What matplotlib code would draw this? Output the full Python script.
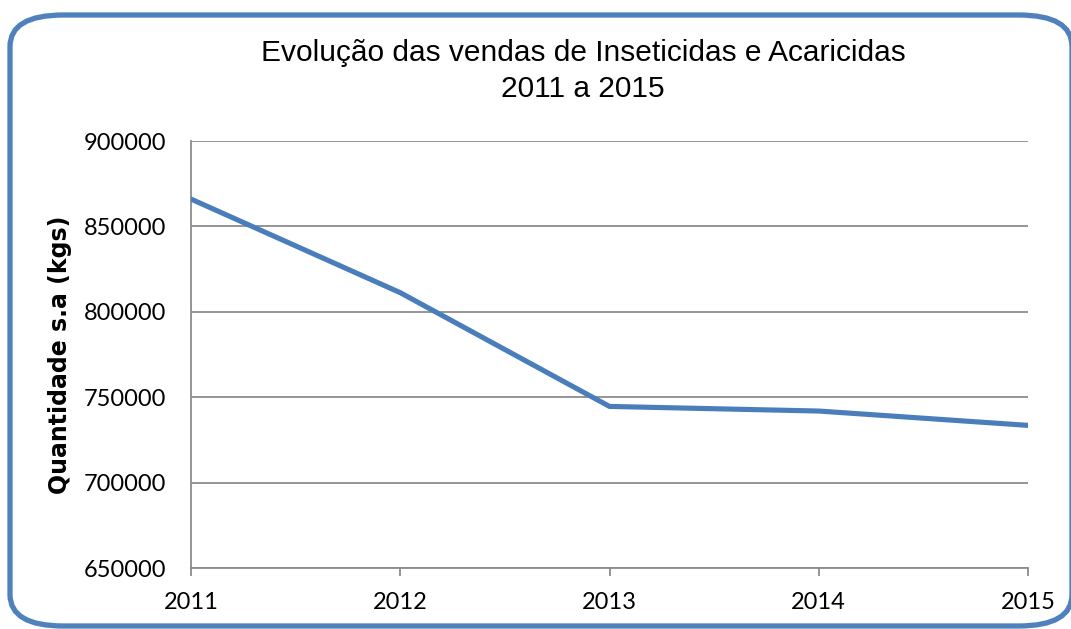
import matplotlib
matplotlib.use("Agg")
import matplotlib.pyplot as plt
from matplotlib.patches import FancyBboxPatch

# -------------------------------------------------------
# Data
# -------------------------------------------------------
years = [2011, 2012, 2013, 2014, 2015]
vendas = [866000, 811200, 744600, 741900, 733500]
y_ticks = [650000, 700000, 750000, 800000, 850000, 900000]

W, H = 1071, 629
fig = plt.figure(figsize=(W / 100, H / 100), dpi=100)

# plot area in pixels: left 191, right 1028, top 141, bottom 568
ax = fig.add_axes([191 / W, 1 - 568 / H, (1028 - 191) / W, (568 - 141) / H])

ax.plot(years, vendas, color="#4A7EBB", linewidth=3.7, solid_capstyle="round",
        solid_joinstyle="round", zorder=3)

ax.set_xlim(years[0], years[-1])
ax.set_ylim(y_ticks[0], y_ticks[-1])
ax.set_xticks(years)
ax.set_yticks(y_ticks)
ax.set_xticklabels([str(y) for y in years], family="Lato", fontsize=17)
ax.set_yticklabels([str(v) for v in y_ticks], family="Lato", fontsize=17)
ax.grid(True, axis="y", color="#8C8C8C", linewidth=1.3)
ax.set_axisbelow(True)

for side in ("top", "right"):
    ax.spines[side].set_visible(False)
for side in ("left", "bottom"):
    ax.spines[side].set_color("#8C8C8C")
    ax.spines[side].set_linewidth(1.3)
ax.tick_params(axis="y", length=0, pad=18)
ax.tick_params(axis="x", direction="out", length=6, width=1.3, color="#8C8C8C", pad=11)

ax.set_ylabel("Quantidade s.a (kgs)", family="DejaVu Sans", fontweight="bold",
              fontsize=17, labelpad=8)

fig.text(583 / W, 1 - 71 / H, "Evolução das vendas de Inseticidas e Acaricidas\n2011 a 2015",
         ha="center", va="center", family="Liberation Sans", fontsize=21.5, linespacing=1.35)

# rounded blue frame round the whole chart
frame = FancyBboxPatch((10 / W, 1 - 626 / H), (1072 - 10) / W, (626 - 15) / H,
                       boxstyle="round,pad=0,rounding_size=0.05",
                       transform=fig.transFigure, facecolor="none",
                       edgecolor="#4F81BD", linewidth=3.8, zorder=0)
fig.patches.append(frame)

plt.savefig("out.png", dpi=100)
